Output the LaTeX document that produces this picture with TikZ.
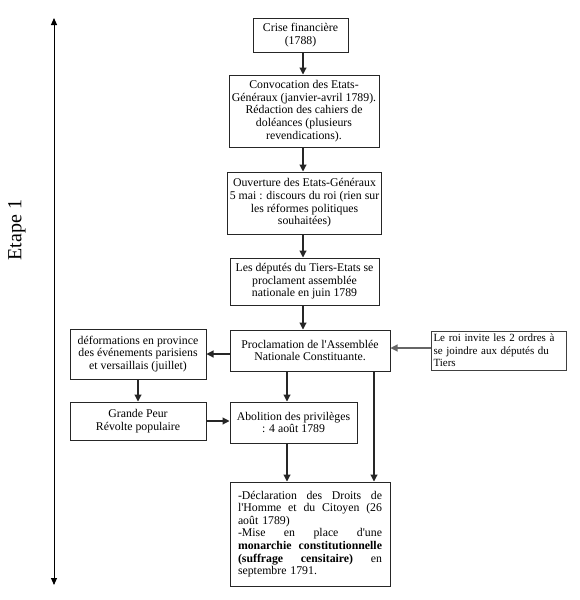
\documentclass[tikz,border=0pt]{standalone}
\usepackage{fontspec}
\setmainfont{Liberation Serif}
\usetikzlibrary{arrows.meta}
\newcommand{\ap}{\textquotesingle}
\begin{document}
\begin{tikzpicture}[x=1pt,y=-1pt,
  box/.style={draw=black!85, line width=1pt, inner sep=2pt, align=center,
    font=\fontsize{11.8}{12.6}\selectfont},
  arr/.style={draw=black!85, line width=1.1pt, -{Triangle[length=7pt,width=7pt]}},
  ]
\useasboundingbox (0,0) rectangle (579,600);
% axis
\coordinate (top) at (54,18);
\coordinate (bot) at (54,585);
\draw[line width=0.9pt, {Triangle[length=7pt,width=6pt]}-{Triangle[length=7pt,width=6pt]}] (top) -- (bot);
\node[rotate=90, font=\fontsize{20}{22}\selectfont] (etape) at (17,230) {Etape 1};
% boxes
\node[box, minimum width=95pt, minimum height=34pt] (crise) at (300.5,35) {Crise financière\\(1788)};
\node[box, minimum width=150pt, minimum height=72pt] (conv) at (304,111) {Convocation des Etats-\\Généraux (janvier-avril 1789).\\Rédaction des cahiers de\\doléances (plusieurs\\revendications).};
\node[box, minimum width=149pt, minimum height=62pt] (ouv) at (304.5,203) {Ouverture des Etats-Généraux\\5 mai : discours du roi (rien sur\\les réformes politiques\\souhaitées)};
\node[box, minimum width=149pt, minimum height=47pt] (dep) at (304.5,281.5) {Les députés du Tiers-Etats se\\proclament assemblée\\nationale en juin 1789};
\node[box, minimum width=160pt, minimum height=41pt] (procl) at (310,350.5) {Proclamation de l\ap Assemblée\\Nationale Constituante.};
\node[box, minimum width=136pt, minimum height=50pt] (def) at (138,354) {déformations en province\\des événements parisiens\\et versaillais (juillet)};
\node[box, minimum width=136pt, minimum height=38pt] (gp) at (138,421) {Grande Peur\\Révolte populaire};
\node[box, minimum width=127pt, minimum height=41pt] (abol) at (293.5,422.5) {Abolition des privilèges\\: 4 août 1789};
\node[box, minimum width=135pt, minimum height=39pt, text width=130pt, inner xsep=2.5pt, align=left, draw=black!75, font=\fontsize{11}{12.4}\selectfont] (roi) at (498.5,350.5) {Le roi invite les 2 ordres à\\se joindre aux députés du\\Tiers};
\node[box, minimum width=160pt, minimum height=104pt, text width=144pt, inner xsep=8pt, align=left] (fin) at (310,534) {%
\hbox to 144pt{-Déclaration\hfill des\hfill Droits\hfill de}
\hbox to 144pt{l\ap Homme\hfill et\hfill du\hfill Citoyen\hfill (26}
\hbox to 144pt{août 1789)\hfill}
\hbox to 144pt{-Mise\hfill en\hfill place\hfill d\ap une}
\hbox to 144pt{\bfseries monarchie\hfill constitutionnelle}
\hbox to 144pt{\textbf{(suffrage}\hfill\textbf{censitaire)}\hfill en}
\hbox to 144pt{septembre 1791.\hfill}};
% connectors
\coordinate (cx1) at (303,0);
\coordinate (cx2) at (287,0);
\coordinate (cx3) at (374,0);
\coordinate (cy1) at (0,348);
\draw[arr] (crise.south -| cx1) -- (conv.north -| cx1);
\draw[arr] (conv.south -| cx1) -- (ouv.north -| cx1);
\draw[arr] (ouv.south -| cx1) -- (dep.north -| cx1);
\draw[arr] (dep.south -| cx1) -- (procl.north -| cx1);
\draw[arr] (procl.west |- def.east) -- (def.east);
\draw[arr] (def.south) -- (gp.north);
\draw[arr] (gp.east) -- (gp.east -| abol.west);
\draw[arr] (procl.south -| cx2) -- (abol.north -| cx2);
\draw[arr] (abol.south -| cx2) -- (fin.north -| cx2);
\draw[arr] (procl.south -| cx3) -- (fin.north -| cx3);
\draw[arr, draw=black!60] (roi.west |- cy1) -- (procl.east |- cy1);
\end{tikzpicture}
\end{document}
